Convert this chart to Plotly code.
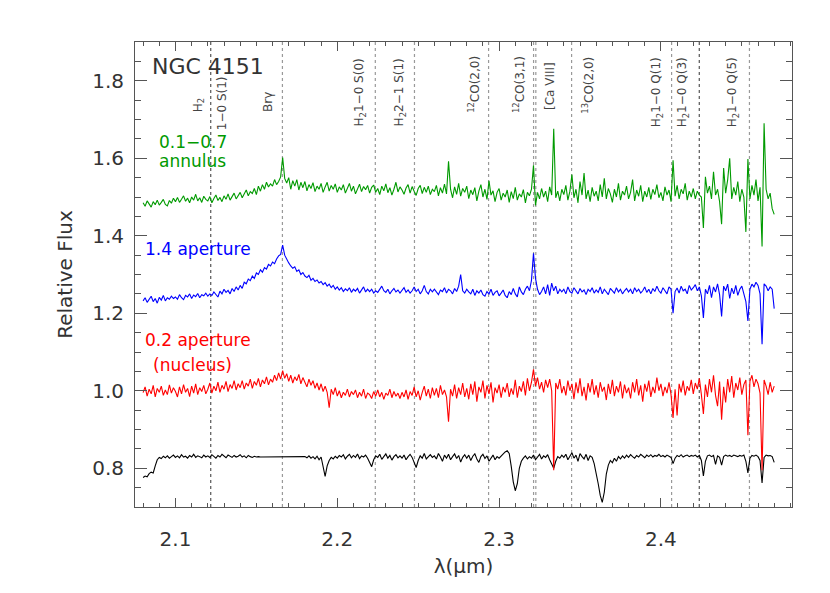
import numpy as np
import plotly.graph_objects as go

# wavelength grid (micron), 0.00125 step, 313 samples 2.080 -> 2.470
wave = np.round(np.arange(313) * 0.00125 + 2.080, 5)

# 0.1-0.7 arcsec annulus (offset)
annulus = [
    1.485, 1.476, 1.490, 1.482, 1.474, 1.488, 1.480, 1.492, 1.479, 1.486, 1.494, 1.481, 1.477, 1.491, 1.484, 1.497,
    1.488, 1.499, 1.486, 1.494, 1.503, 1.489, 1.497, 1.485, 1.500, 1.492, 1.507, 1.490, 1.498, 1.486, 1.502, 1.494,
    1.490, 1.501, 1.485, 1.496, 1.505, 1.491, 1.499, 1.488, 1.503, 1.494, 1.508, 1.492, 1.500, 1.510, 1.495, 1.504,
    1.512, 1.498, 1.507, 1.518, 1.503, 1.514, 1.509, 1.522, 1.506, 1.528, 1.515, 1.532, 1.520, 1.538, 1.526, 1.534,
    1.528, 1.545, 1.532, 1.540, 1.552, 1.602, 1.548, 1.536, 1.550, 1.520, 1.542, 1.528, 1.545, 1.518, 1.538, 1.524,
    1.540, 1.516, 1.532, 1.522, 1.537, 1.514, 1.528, 1.520, 1.535, 1.512, 1.526, 1.538, 1.515, 1.530, 1.520, 1.534,
    1.512, 1.526, 1.518, 1.532, 1.510, 1.524, 1.535, 1.515, 1.528, 1.508, 1.522, 1.533, 1.514, 1.527, 1.519, 1.530,
    1.510, 1.525, 1.531, 1.512, 1.522, 1.506, 1.528, 1.516, 1.534, 1.511, 1.524, 1.505, 1.520, 1.538, 1.513, 1.526,
    1.518, 1.507, 1.523, 1.532, 1.510, 1.527, 1.515, 1.504, 1.522, 1.530, 1.509, 1.525, 1.512, 1.528, 1.506, 1.520,
    1.514, 1.530, 1.503, 1.524, 1.510, 1.533, 1.508, 1.592, 1.520, 1.498, 1.526, 1.507, 1.535, 1.502, 1.522, 1.512,
    1.528, 1.496, 1.518, 1.506, 1.524, 1.490, 1.515, 1.532, 1.500, 1.520, 1.494, 1.542, 1.505, 1.516, 1.488, 1.512,
    1.522, 1.492, 1.510, 1.500, 1.518, 1.486, 1.514, 1.496, 1.525, 1.492, 1.508, 1.500, 1.519, 1.485, 1.512, 1.503,
    1.520, 1.582, 1.478, 1.512, 1.495, 1.522, 1.500, 1.515, 1.488, 1.526, 1.505, 1.676, 1.498, 1.515, 1.490, 1.520,
    1.506, 1.530, 1.492, 1.515, 1.558, 1.498, 1.520, 1.485, 1.540, 1.505, 1.562, 1.495, 1.518, 1.488, 1.525, 1.502,
    1.515, 1.490, 1.532, 1.500, 1.548, 1.495, 1.522, 1.508, 1.486, 1.520, 1.500, 1.535, 1.492, 1.515, 1.505, 1.528,
    1.495, 1.512, 1.545, 1.490, 1.518, 1.502, 1.530, 1.488, 1.515, 1.500, 1.525, 1.494, 1.520, 1.506, 1.532, 1.498,
    1.512, 1.490, 1.526, 1.505, 1.518, 1.488, 1.595, 1.502, 1.530, 1.495, 1.520, 1.508, 1.535, 1.492, 1.515, 1.500,
    1.522, 1.495, 1.515, 1.505, 1.500, 1.420, 1.552, 1.510, 1.528, 1.495, 1.565, 1.505, 1.520, 1.488, 1.430, 1.575,
    1.510, 1.545, 1.600, 1.495, 1.525, 1.505, 1.540, 1.488, 1.520, 1.500, 1.410, 1.598, 1.495, 1.530, 1.505, 1.545,
    1.490, 1.525, 1.372, 1.690, 1.520, 1.495, 1.510, 1.470, 1.455,
]

# 1.4 arcsec aperture (offset)
aperture14 = [
    1.232, 1.240, 1.228, 1.236, 1.244, 1.230, 1.238, 1.226, 1.241, 1.234, 1.246, 1.232, 1.240, 1.236, 1.244, 1.238,
    1.242, 1.236, 1.248, 1.240, 1.235, 1.246, 1.242, 1.250, 1.238, 1.247, 1.243, 1.251, 1.240, 1.248, 1.245, 1.252,
    1.244, 1.250, 1.246, 1.255, 1.248, 1.242, 1.257, 1.250, 1.262, 1.254, 1.259, 1.250, 1.264, 1.256, 1.268, 1.260,
    1.272, 1.264, 1.280, 1.276, 1.288, 1.284, 1.296, 1.290, 1.304, 1.300, 1.312, 1.306, 1.318, 1.314, 1.326, 1.322,
    1.332, 1.328, 1.340, 1.348, 1.352, 1.376, 1.350, 1.338, 1.330, 1.322, 1.316, 1.320, 1.308, 1.312, 1.300, 1.305,
    1.296, 1.292, 1.298, 1.285, 1.290, 1.282, 1.286, 1.278, 1.282, 1.274, 1.279, 1.270, 1.275, 1.266, 1.272, 1.262,
    1.268, 1.260, 1.266, 1.256, 1.263, 1.258, 1.266, 1.254, 1.262, 1.257, 1.264, 1.252, 1.260, 1.268, 1.255, 1.262,
    1.256, 1.262, 1.252, 1.258, 1.254, 1.264, 1.270, 1.258, 1.254, 1.262, 1.250, 1.258, 1.264, 1.255, 1.260, 1.252,
    1.258, 1.266, 1.254, 1.260, 1.252, 1.258, 1.268, 1.256, 1.262, 1.250, 1.258, 1.272, 1.256, 1.250, 1.262, 1.255,
    1.262, 1.254, 1.248, 1.260, 1.256, 1.266, 1.252, 1.262, 1.258, 1.250, 1.264, 1.256, 1.270, 1.300, 1.258, 1.252,
    1.262, 1.255, 1.250, 1.262, 1.246, 1.258, 1.252, 1.260, 1.248, 1.244, 1.256, 1.250, 1.262, 1.246, 1.254, 1.258,
    1.245, 1.252, 1.260, 1.246, 1.240, 1.256, 1.248, 1.264, 1.250, 1.242, 1.268, 1.255, 1.248, 1.262, 1.270, 1.258,
    1.285, 1.355, 1.290, 1.262, 1.248, 1.256, 1.268, 1.250, 1.274, 1.246, 1.278, 1.258, 1.270, 1.250, 1.262, 1.255,
    1.262, 1.250, 1.268, 1.256, 1.252, 1.266, 1.258, 1.250, 1.264, 1.255, 1.260, 1.248, 1.262, 1.256, 1.266, 1.252,
    1.260, 1.254, 1.268, 1.250, 1.262, 1.256, 1.248, 1.264, 1.258, 1.252, 1.266, 1.255, 1.262, 1.250, 1.258, 1.264,
    1.255, 1.262, 1.250, 1.266, 1.256, 1.262, 1.252, 1.258, 1.268, 1.254, 1.262, 1.250, 1.264, 1.256, 1.270, 1.258,
    1.252, 1.266, 1.258, 1.250, 1.268, 1.262, 1.200, 1.256, 1.265, 1.252, 1.270, 1.258, 1.262, 1.250, 1.272, 1.260,
    1.266, 1.274, 1.258, 1.268, 1.245, 1.188, 1.262, 1.250, 1.272, 1.240, 1.268, 1.255, 1.276, 1.248, 1.192, 1.270,
    1.258, 1.275, 1.238, 1.265, 1.250, 1.272, 1.246, 1.262, 1.270, 1.252, 1.230, 1.180, 1.262, 1.275, 1.268, 1.280,
    1.272, 1.250, 1.120, 1.276, 1.270, 1.258, 1.268, 1.262, 1.212,
]

# 0.2 arcsec aperture (nucleus)
nucleus = [
    0.995, 1.010, 0.986, 1.004, 0.992, 1.014, 0.984, 1.006, 0.996, 1.012, 0.988, 1.002, 0.990, 1.015, 0.994, 1.008,
    0.998, 0.984, 1.010, 0.992, 1.016, 0.996, 1.006, 0.985, 1.012, 0.994, 1.018, 0.990, 1.008, 0.998, 1.014, 0.992,
    1.004, 1.020, 0.994, 1.012, 1.000, 1.022, 0.996, 1.014, 1.004, 1.024, 0.998, 1.016, 1.006, 1.026, 1.002, 1.018,
    1.008, 1.026, 1.004, 1.020, 1.012, 1.030, 1.006, 1.024, 1.014, 1.032, 1.010, 1.028, 1.018, 1.036, 1.015, 1.030,
    1.022, 1.040, 1.026, 1.046, 1.030, 1.052, 1.032, 1.044, 1.024, 1.040, 1.020, 1.036, 1.026, 1.042, 1.018, 1.034,
    1.022, 1.010, 1.030, 1.014, 1.026, 1.006, 1.020, 1.002, 1.018, 0.998, 1.012, 0.996, 0.956, 1.004, 0.990, 1.008,
    0.986, 1.000, 0.982, 0.996, 0.988, 1.004, 0.984, 0.998, 0.990, 1.002, 0.982, 0.996, 0.986, 1.004, 0.980, 0.994,
    0.990, 0.980, 0.998, 0.986, 1.002, 0.984, 0.996, 0.978, 0.994, 0.988, 1.004, 0.982, 0.998, 0.986, 0.994, 0.980,
    0.996, 0.984, 1.002, 0.978, 0.998, 0.988, 1.010, 0.984, 1.000, 0.976, 0.996, 1.012, 0.986, 1.004, 0.980, 1.008,
    0.988, 1.006, 0.982, 1.014, 0.990, 1.002, 0.984, 0.920, 1.004, 0.986, 1.016, 0.980, 1.008, 0.990, 1.020, 0.984,
    1.006, 0.978, 1.018, 0.990, 1.024, 0.972, 1.010, 0.996, 1.026, 0.980, 1.014, 0.992, 1.022, 0.970, 1.008, 0.994,
    1.016, 0.982, 1.010, 0.996, 1.020, 0.984, 1.006, 0.990, 1.028, 0.982, 1.012, 0.998, 1.024, 0.988, 1.032, 1.000,
    1.022, 1.055, 1.012, 1.034, 1.004, 1.022, 0.996, 1.028, 1.008, 1.030, 1.000, 0.795, 1.020, 1.004, 1.030, 0.994,
    1.012, 0.988, 1.026, 1.000, 1.018, 0.978, 1.022, 0.994, 1.032, 0.986, 1.010, 0.975, 1.020, 0.996, 1.030, 0.990,
    1.014, 0.982, 1.022, 0.998, 1.010, 0.976, 1.018, 0.992, 1.028, 0.986, 1.012, 0.996, 1.024, 0.980, 1.016, 0.994,
    1.008, 0.980, 1.022, 0.996, 1.030, 0.988, 1.014, 0.972, 1.018, 0.998, 1.026, 0.984, 1.010, 0.994, 1.034, 1.000,
    1.018, 0.986, 1.010, 0.994, 1.022, 0.990, 0.930, 1.004, 0.936, 1.018, 0.996, 1.026, 0.988, 1.012, 1.000, 1.028,
    0.992, 1.020, 1.004, 1.032, 0.990, 0.940, 1.016, 0.984, 1.030, 0.996, 1.040, 0.988, 0.960, 1.024, 0.925, 1.010,
    0.970, 1.030, 0.996, 1.038, 0.982, 1.020, 1.002, 1.034, 0.990, 1.016, 1.028, 0.885, 1.024, 1.040, 1.010, 1.030,
    1.018, 0.994, 0.795, 1.028, 1.012, 0.990, 1.022, 0.996, 1.012,
]

# template star; Br-gamma region masked (None, bridged by a straight line)
template = [
    0.776, 0.780, 0.778, 0.786, 0.790, 0.788, 0.806, 0.822, 0.828, 0.825, 0.831, 0.827, 0.832, 0.826, 0.830, 0.834,
    0.828, 0.832, 0.827, 0.835, 0.829, 0.831, 0.826, 0.833, 0.829, 0.836, 0.828, 0.832, 0.830, 0.827, 0.834, 0.829,
    0.832, 0.828, 0.835, 0.830, 0.826, 0.833, 0.829, 0.836, 0.831, 0.827, 0.834, 0.830, 0.828, 0.833, 0.829, 0.831,
    0.835, 0.829, 0.832, 0.827, 0.833, 0.830, 0.828, 0.831, 0.829, 0.830, 0.829, None, None, None, None, None,
    None, None, None, None, None, None, None, None, None, None, None, None, None, None, None, None,
    0.830, 0.827, 0.832, 0.826, 0.830, 0.824, 0.831, 0.822, 0.829, 0.800, 0.779, 0.806, 0.820, 0.828, 0.824, 0.831,
    0.826, 0.833, 0.829, 0.835, 0.824, 0.831, 0.836, 0.827, 0.833, 0.828, 0.837, 0.825, 0.832, 0.829, 0.834, 0.826,
    0.815, 0.804, 0.822, 0.832, 0.828, 0.836, 0.823, 0.831, 0.837, 0.826, 0.833, 0.821, 0.830, 0.835, 0.827, 0.832,
    0.826, 0.834, 0.822, 0.830, 0.836, 0.828, 0.815, 0.802, 0.820, 0.832, 0.826, 0.838, 0.824, 0.831, 0.835, 0.828,
    0.832, 0.824, 0.838, 0.829, 0.818, 0.834, 0.826, 0.836, 0.822, 0.830, 0.837, 0.825, 0.833, 0.816, 0.828, 0.835,
    0.826, 0.834, 0.820, 0.831, 0.837, 0.824, 0.815, 0.830, 0.836, 0.825, 0.832, 0.818, 0.828, 0.834, 0.822, 0.830,
    0.826, 0.832, 0.838, 0.842, 0.845, 0.838, 0.805, 0.765, 0.742, 0.760, 0.800, 0.818, 0.826, 0.832, 0.824, 0.830,
    0.826, 0.834, 0.822, 0.830, 0.836, 0.824, 0.832, 0.828, 0.835, 0.822, 0.812, 0.800, 0.818, 0.830, 0.826, 0.834,
    0.828, 0.836, 0.822, 0.832, 0.840, 0.826, 0.834, 0.818, 0.838, 0.830, 0.824, 0.836, 0.820, 0.832, 0.828, 0.812,
    0.790, 0.760, 0.730, 0.712, 0.738, 0.785, 0.808, 0.820, 0.814, 0.826, 0.818, 0.830, 0.824, 0.832, 0.826, 0.834,
    0.828, 0.835, 0.830, 0.826, 0.833, 0.829, 0.836, 0.831, 0.827, 0.834, 0.830, 0.835, 0.829, 0.833, 0.831, 0.836,
    0.830, 0.833, 0.829, 0.834, 0.831, 0.828, 0.812, 0.826, 0.833, 0.830, 0.835, 0.829, 0.832, 0.834, 0.830, 0.833,
    0.831, 0.834, 0.829, 0.833, 0.820, 0.780, 0.818, 0.832, 0.834, 0.830, 0.833, 0.810, 0.832, 0.828, 0.808, 0.830,
    0.834, 0.831, 0.833, 0.830, 0.834, 0.832, 0.830, 0.833, 0.831, 0.834, 0.818, 0.788, 0.826, 0.833, 0.831, 0.834,
    0.830, 0.820, 0.762, 0.828, 0.834, 0.832, 0.833, 0.830, 0.815,
]

# marked lines (micron); darker ones drawn with black dots
line_waves = [2.1218, 2.1661, 2.2235, 2.2477, 2.2935, 2.3213, 2.3227,
              2.3448, 2.4066, 2.4237, 2.4547]
line_dark = [True, False, False, False, False, False, False,
             False, False, True, False]

label_texts = ["H<sub>2</sub>", "1\u22120 S(1)", "Br\u03b3",
               "H<sub>2</sub>1\u22120 S(0)", "H<sub>2</sub>2\u22121 S(1)",
               "<sup>12</sup>CO(2,0)", "<sup>12</sup>CO(3,1)", "[Ca VIII]",
               "<sup>13</sup>CO(2,0)", "H<sub>2</sub>1\u22120 Q(1)",
               "H<sub>2</sub>1\u22120 Q(3)", "H<sub>2</sub>1\u22120 Q(5)"]
label_x = [2.1142, 2.1284, 2.1568, 2.2143, 2.2390, 2.2840, 2.3119,
           2.3316, 2.3551, 2.3977, 2.4138, 2.4447]
label_y = [1.738, 1.743, 1.746, 1.771, 1.771, 1.790, 1.790,
           1.787, 1.788, 1.771, 1.771, 1.771]

FONT = "DejaVu Sans"
GREEN = "#009a00"

fig = go.Figure()
for wl, dark in zip(line_waves, line_dark):
    fig.add_vline(x=wl, line=dict(color="#555" if dark else "#999", width=1.2, dash="dot"),
                  layer="below")

fig.add_trace(go.Scatter(x=wave, y=template, mode="lines", connectgaps=True,
                         line=dict(color="black", width=1.1)))
fig.add_trace(go.Scatter(x=wave, y=nucleus, mode="lines",
                         line=dict(color="#ff0000", width=1.1)))
fig.add_trace(go.Scatter(x=wave, y=aperture14, mode="lines",
                         line=dict(color="#0000ff", width=1.1)))
fig.add_trace(go.Scatter(x=wave, y=annulus, mode="lines",
                         line=dict(color=GREEN, width=1.1)))

for t, lx, ly in zip(label_texts, label_x, label_y):
    fig.add_annotation(x=lx, y=ly, text=t, textangle=-90, showarrow=False,
                       xanchor="center", yanchor="middle",
                       font=dict(family=FONT, size=12, color="#444"))

# text blocks: pixel positions converted to data coords
texts = [
    ("NGC 4151", 150, 68, 22, "#333"),
    ("0.1\u22120.7", 157, 143, 17, GREEN),
    ("annulus", 157, 162, 17, GREEN),
    ("1.4 aperture", 143, 250, 17, "#0000ff"),
    ("0.2 aperture", 143, 340, 17, "#ff0000"),
    ("(nucleus)", 151, 365, 17, "#ff0000"),
]
for t, px_, py_, sz, col in texts:
    fig.add_annotation(x=2.1 + (px_ - 175) / 1619, y=0.8 + (468 - py_) / 386,
                       text=t, showarrow=False, xanchor="left", yanchor="middle",
                       font=dict(family=FONT, size=sz, color=col))

axis_col = "#555"
fig.update_xaxes(range=[2.075, 2.481], tick0=2.1, dtick=0.1, tickformat=".1f",
                 ticks="inside", ticklen=9, tickcolor=axis_col,
                 showline=True, linecolor=axis_col, linewidth=1, mirror="allticks",
                 showgrid=False, zeroline=False, ticklabelstandoff=14,
                 minor=dict(ticks="inside", tick0=2.1, dtick=0.01, ticklen=4,
                            tickcolor=axis_col, showgrid=False),
                 tickfont=dict(family=FONT, size=20, color="#333"),
                 title=dict(text="\u03bb(\u03bcm)", standoff=8,
                            font=dict(family=FONT, size=20, color="#333")))
fig.update_yaxes(range=[0.7, 1.9], tick0=0.8, dtick=0.2, tickformat=".1f",
                 ticks="inside", ticklen=12, tickcolor=axis_col,
                 showline=True, linecolor=axis_col, linewidth=1, mirror="allticks",
                 showgrid=False, zeroline=False, ticklabelstandoff=6,
                 minor=dict(ticks="inside", dtick=0.05, ticklen=6,
                            tickcolor=axis_col, showgrid=False),
                 tickfont=dict(family=FONT, size=20, color="#333"),
                 title=dict(text="Relative Flux", standoff=14,
                            font=dict(family=FONT, size=20, color="#333")))

# page body adds an 8px offset, so margins are shifted to compensate
fig.update_layout(width=830, height=593, showlegend=False,
                  margin=dict(l=127, r=46, t=34, b=94),
                  paper_bgcolor="white", plot_bgcolor="white")

fig.write_html("out.html")
